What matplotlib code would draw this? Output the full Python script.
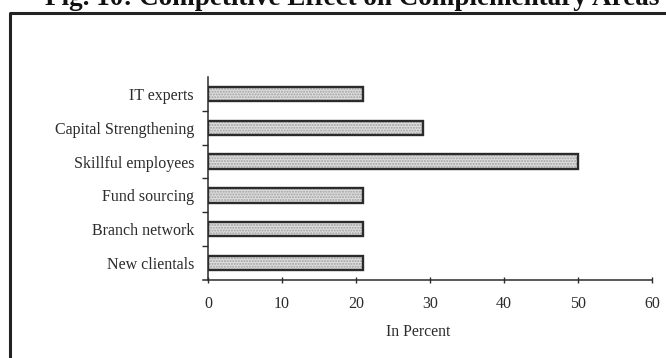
import matplotlib
matplotlib.use("Agg")
import matplotlib.pyplot as plt
from matplotlib.lines import Line2D

plt.rcParams["font.family"] = ["Liberation Serif", "DejaVu Serif"]

# survey shares, bottom to top as drawn
areas = [
    "New clientals",
    "Branch network",
    "Fund sourcing",
    "Skillful employees",
    "Capital Strengthening",
    "IT experts",
]
percent = [21, 21, 21, 50, 29, 21]
x_ticks = [0, 10, 20, 30, 40, 50, 60]

W, H = 666, 358
fig = plt.figure(figsize=(W / 100, H / 100), dpi=100)
ax = fig.add_axes([208 / W, 1 - 280 / H, 444 / W, 203 / H])

ink = "#2b2b2b"
pos = list(range(len(areas)))

# speckled fill, then the dark outline on top
ax.barh(pos, percent, height=0.42, color="#dedede", edgecolor="#a0a0a0",
        hatch="......", linewidth=0, zorder=2)
ax.barh(pos, percent, height=0.42, fill=False, edgecolor=ink,
        linewidth=1.7, zorder=3)

ax.set_xlim(0, 60)
ax.set_ylim(-0.5, len(areas) - 0.5)
ax.set_xticks(x_ticks)
ax.set_xticklabels([str(t) for t in x_ticks])

# category names sit between the tick marks
ax.set_yticks([p + 0.5 for p in pos[:-1]])
ax.set_yticklabels([])
ax.set_yticks(pos, minor=True)
ax.set_yticklabels(areas, minor=True)
ax.tick_params(axis="y", which="major", direction="out", length=4, width=1, color=ink)
ax.tick_params(axis="y", which="minor", length=0, pad=10, labelsize=11.5, labelcolor=ink)
ax.tick_params(axis="x", direction="inout", length=5, width=1, color=ink,
               pad=9, labelsize=11.5, labelcolor=ink)

for side in ("top", "right"):
    ax.spines[side].set_visible(False)
for side in ("left", "bottom"):
    ax.spines[side].set_color(ink)
    ax.spines[side].set_linewidth(1.1)
ax.spines["bottom"].set_bounds(-0.7, 60)
ax.set_xlabel("In Percent", fontsize=11.3, color=ink)
ax.xaxis.set_label_coords((418 - 208) / 444, -0.215)

# page frame around the figure and the caption above it (runs off the top)
fx = 10 / W
fy = 1 - 13 / H
fig.add_artist(Line2D([fx, fx, 1.0], [0.0, fy, fy], color="#222222",
                      linewidth=2.2, transform=fig.transFigure))
fig.text(352 / W, 1 - 5 / H, "Fig. 10: Competitive Effect on Complementary Areas",
         ha="center", va="baseline", fontsize=19.5, fontweight="bold", color="#111111")

fig.savefig("out.png", dpi=100)
